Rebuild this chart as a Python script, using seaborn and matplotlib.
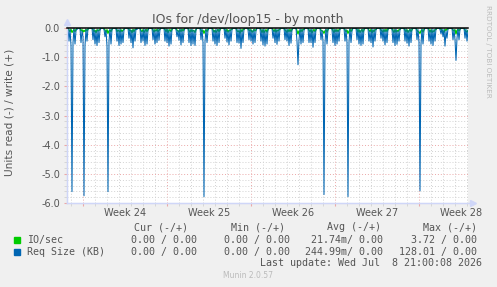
import matplotlib
matplotlib.use("Agg")
import matplotlib.pyplot as plt
import matplotlib.dates as mdates
from matplotlib.patches import Rectangle
import numpy as np
import pandas as pd
import seaborn as sns

# Данные: 2-часовые отсчёты, по 12 на сутки, начиная с 2026-06-06 16:00
start = "2026-06-06 16:00"
end = "2026-07-10 02:00"

# Req Size (KB), чтение (отрисовывается вниз)
req_read = [
    [0, 0, -0.45, -0.05, -0.60, -5.61, -0.50, -0.02, -0.55, -0.08, -0.05, 0],
    [0, 0, -0.50, -0.10, -0.30, -5.75, -0.60, -0.05, -0.45, -0.02, 0, 0],
    [0, 0, -0.40, -0.02, -0.55, -0.10, -0.60, -0.05, -0.50, -0.08, 0, 0],
    [0, -0.05, -0.30, -0.08, -0.62, -5.61, -0.45, -0.02, -0.55, -0.05, 0, 0],
    [0, 0, -0.45, -0.05, -0.60, -0.02, -0.55, -0.10, -0.50, -0.05, 0, 0],
    [0, 0, -0.35, -0.02, -0.50, -0.08, -0.68, -0.05, -0.45, -0.02, -0.05, 0],
    [0, 0, -0.50, -0.10, -0.45, -0.02, -0.60, -0.05, -0.55, -0.08, 0, 0],
    [0, 0, -0.40, -0.05, -0.55, -0.08, -0.50, -0.02, -0.42, -0.05, 0, 0],
    [0, 0, -0.45, -0.02, -0.50, -0.05, -0.62, -0.10, -0.55, -0.02, 0, 0],
    [0, -0.05, -0.30, -0.08, -0.42, -0.02, -0.58, -0.05, -0.50, -0.10, 0, 0],
    [0, 0, -0.50, -0.05, -0.60, -0.02, -0.55, -0.08, -0.60, -0.05, 0, 0],
    [0, 0, -0.40, -0.02, -0.50, -5.78, -0.45, -0.05, -0.50, -0.08, 0, 0],
    [0, 0, -0.45, -0.08, -0.55, -0.02, -0.60, -0.05, -0.50, -0.02, 0, 0],
    [0, 0, -0.35, -0.02, -0.48, -0.10, -0.58, -0.05, -0.45, -0.05, 0, 0],
    [0, 0, -0.50, -0.05, -0.52, -0.02, -0.70, -0.08, -0.50, -0.02, 0, 0],
    [0, -0.05, -0.40, -0.02, -0.45, -0.08, -0.55, -0.05, -0.50, -0.10, 0, 0],
    [0, 0, -0.45, -0.05, -0.58, -0.02, -0.62, -0.10, -0.55, -0.05, 0, 0],
    [0, 0, -0.35, -0.08, -0.50, -0.02, -0.56, -0.05, -0.45, -0.02, 0, 0],
    [0, 0, -0.40, -0.02, -0.45, -0.05, -0.60, -0.08, -0.52, -0.05, 0, 0],
    [0, 0, -0.45, -1.26, -0.40, -0.02, -0.55, -0.05, -0.50, -0.08, 0, 0],
    [0, 0, -0.50, -0.05, -0.50, -0.02, -0.66, -0.10, -0.50, -0.02, 0, 0],
    [0, 0, -0.40, -0.08, -0.45, -5.71, -0.50, -0.02, -0.55, -0.05, 0, 0],
    [0, -0.05, -0.50, -0.02, -0.60, -0.05, -0.55, -0.08, -0.45, -0.02, 0, 0],
    [0, 0, -0.45, -0.05, -0.50, -5.78, -0.48, -0.02, -0.50, -0.10, 0, 0],
    [0, 0, -0.40, -0.02, -0.55, -0.08, -0.60, -0.05, -0.55, -0.02, 0, 0],
    [0, 0, -0.45, -0.10, -0.50, -0.02, -0.65, -0.05, -0.45, -0.05, 0, 0],
    [0, 0, -0.35, -0.02, -0.45, -0.05, -0.58, -0.08, -0.50, -0.02, 0, 0],
    [0, -0.05, -0.50, -0.05, -0.60, -0.02, -0.56, -0.10, -0.45, -0.05, 0, 0],
    [0, 0, -0.45, -0.02, -0.52, -0.08, -0.62, -0.05, -0.50, -0.02, 0, 0],
    [0, 0, -0.40, -0.05, -0.48, -5.58, -0.55, -0.02, -0.55, -0.08, 0, 0],
    [0, 0, -0.45, -0.08, -0.55, -0.02, -0.60, -0.05, -0.45, -0.02, 0, 0],
    [0, -0.05, -0.20, -0.02, -0.30, -0.05, -0.62, -0.10, -0.35, -0.02, 0, 0],
    [0, 0, -0.40, -0.05, -0.40, -1.11, -0.35, -0.02, -0.40, -0.05, 0, 0],
    [0, 0, -0.35, -0.02, -0.45, -0.08, -0.55, -0.05, -0.25, -0.02, 0, 0],
]

# IO/sec, чтение
io_read = [
    [0, 0, -0.08, -0.12, -0.05, -0.15, -0.10, -0.06, -0.12, -0.05, 0, 0],
    [0, 0, -0.10, -0.06, -0.14, -0.08, -0.12, -0.05, -0.10, -0.04, 0, 0],
    [0, 0, -0.06, -0.12, -0.08, -0.16, -0.06, -0.10, -0.08, -0.05, 0, 0],
    [0, 0, -0.08, -0.15, -0.06, -0.18, -0.10, -0.08, -0.12, -0.04, 0, 0],
    [0, 0, -0.12, -0.08, -0.10, -0.14, -0.06, -0.12, -0.08, -0.05, 0, 0],
    [0, 0, -0.06, -0.10, -0.08, -0.16, -0.05, -0.12, -0.06, -0.04, 0, 0],
    [0, 0, -0.10, -0.12, -0.06, -0.15, -0.10, -0.05, -0.12, -0.05, 0, 0],
    [0, 0, -0.08, -0.14, -0.06, -0.10, -0.05, -0.12, -0.08, -0.04, 0, 0],
    [0, 0, -0.06, -0.12, -0.05, -0.16, -0.08, -0.06, -0.12, -0.05, 0, 0],
    [0, 0, -0.08, -0.10, -0.14, -0.06, -0.12, -0.05, -0.10, -0.04, 0, 0],
    [0, 0, -0.10, -0.14, -0.06, -0.12, -0.08, -0.10, -0.15, -0.05, 0, 0],
    [0, 0, -0.08, -0.12, -0.08, -0.18, -0.10, -0.06, -0.12, -0.04, 0, 0],
    [0, 0, -0.06, -0.14, -0.08, -0.15, -0.10, -0.05, -0.12, -0.06, 0, 0],
    [0, 0, -0.08, -0.12, -0.05, -0.14, -0.08, -0.10, -0.06, -0.04, 0, 0],
    [0, 0, -0.10, -0.12, -0.10, -0.18, -0.06, -0.12, -0.05, -0.05, 0, 0],
    [0, 0, -0.08, -0.10, -0.06, -0.14, -0.12, -0.05, -0.10, -0.06, 0, 0],
    [0, 0, -0.08, -0.15, -0.06, -0.16, -0.10, -0.06, -0.14, -0.05, 0, 0],
    [0, 0, -0.06, -0.12, -0.05, -0.14, -0.08, -0.10, -0.06, -0.04, 0, 0],
    [0, 0, -0.08, -0.10, -0.15, -0.06, -0.12, -0.05, -0.12, -0.05, 0, 0],
    [0, 0, -0.10, -0.20, -0.10, -0.14, -0.06, -0.12, -0.05, -0.05, 0, 0],
    [0, 0, -0.08, -0.12, -0.06, -0.16, -0.10, -0.05, -0.12, -0.06, 0, 0],
    [0, 0, -0.08, -0.10, -0.12, -0.18, -0.10, -0.06, -0.14, -0.05, 0, 0],
    [0, 0, -0.10, -0.15, -0.06, -0.12, -0.06, -0.12, -0.06, -0.04, 0, 0],
    [0, 0, -0.08, -0.12, -0.08, -0.18, -0.12, -0.05, -0.12, -0.05, 0, 0],
    [0, 0, -0.06, -0.14, -0.06, -0.15, -0.10, -0.05, -0.14, -0.06, 0, 0],
    [0, 0, -0.08, -0.12, -0.05, -0.16, -0.08, -0.12, -0.06, -0.05, 0, 0],
    [0, 0, -0.08, -0.10, -0.14, -0.06, -0.12, -0.05, -0.12, -0.04, 0, 0],
    [0, 0, -0.10, -0.15, -0.06, -0.14, -0.08, -0.12, -0.06, -0.05, 0, 0],
    [0, 0, -0.08, -0.12, -0.06, -0.15, -0.10, -0.05, -0.12, -0.06, 0, 0],
    [0, 0, -0.08, -0.12, -0.14, -0.18, -0.10, -0.06, -0.14, -0.05, 0, 0],
    [0, 0, -0.06, -0.14, -0.06, -0.15, -0.10, -0.12, -0.06, -0.05, 0, 0],
    [0, 0, -0.05, -0.08, -0.12, -0.15, -0.05, -0.08, -0.04, -0.03, 0, 0],
    [0, 0, -0.08, -0.10, -0.06, -0.20, -0.08, -0.05, -0.10, -0.04, 0, 0],
    [0, 0, -0.08, -0.12, -0.14, -0.08, -0.05, -0.06, -0.04, -0.03, 0, 0],
]

week_labels = ["Week 24", "Week 25", "Week 26", "Week 27", "Week 28"]
week_starts = ["2026-06-08", "2026-06-15", "2026-06-22", "2026-06-29", "2026-07-06"]

legend_names = ["IO/sec", "Req Size (KB)"]
legend_colors = ["#00cc00", "#0066b3"]
cur_vals = ["0.00 / 0.00", "0.00 / 0.00"]
min_vals = ["0.00 / 0.00", "0.00 / 0.00"]
avg_vals = ["21.74m/ 0.00", "244.99m/ 0.00"]
max_vals = ["3.72 / 0.00", "128.01 / 0.00"]

req = np.concatenate(req_read)
io = np.concatenate(io_read)
times = pd.date_range(start, periods=len(req), freq="2h")
df = pd.DataFrame({"time": times, "io_read": io, "req_read": req})

W, H = 497, 287
plt.rcParams["axes.unicode_minus"] = False
plt.rcParams["font.family"] = "DejaVu Sans"
fig = plt.figure(figsize=(W / 100, H / 100), dpi=100, facecolor="#f0f0f0")
ax = fig.add_axes([67 / W, 1 - 203 / H, 401 / W, 175 / H])
ax.set_facecolor("white")

fg = "#555555"
minor_c = "#d2d2d2"
major_c = "#eba8a8"

# сетка
ax.set_ylim(-6, 0)
ax.set_xlim(pd.Timestamp(start), pd.Timestamp(end))
ax.yaxis.set_major_locator(plt.MultipleLocator(1.0))
ax.yaxis.set_minor_locator(plt.MultipleLocator(0.2))
ax.yaxis.set_major_formatter(plt.FormatStrFormatter("%.1f"))
ax.xaxis.set_major_locator(mdates.WeekdayLocator(byweekday=mdates.MO))
ax.xaxis.set_minor_locator(mdates.DayLocator())
ax.xaxis.set_major_formatter(plt.NullFormatter())
ax.grid(which="minor", color=minor_c, linestyle=(0, (1, 2)), lw=0.7)
ax.grid(which="major", color=major_c, linestyle=(0, (1, 2)), lw=0.7)
ax.set_axisbelow(True)

# серии
sns.lineplot(data=df, x="time", y="io_read", color=legend_colors[0], lw=1.0, ax=ax)
sns.lineplot(data=df, x="time", y="req_read", color=legend_colors[1], lw=0.75, ax=ax)
ax.axhline(0, color="black", lw=1.1, clip_on=False, zorder=5)

for s in ["top", "right"]:
    ax.spines[s].set_visible(False)
for s in ["left", "bottom"]:
    ax.spines[s].set_color("#cfd6f8")
ax.plot([0, 0], [0, 1.035], transform=ax.transAxes, color="#cfd6f8", lw=1, clip_on=False)
ax.plot([0, 1.012], [0, 0], transform=ax.transAxes, color="#cfd6f8", lw=1, clip_on=False)
ax.plot([0], [1.035], marker="^", ms=4, color="#cfd6f8", transform=ax.transAxes, clip_on=False)
ax.plot([1.012], [0], marker=">", ms=4, color="#cfd6f8", transform=ax.transAxes, clip_on=False)

ax.tick_params(axis="both", which="major", length=2, color=major_c, labelsize=7,
               labelcolor=fg, pad=3)
ax.tick_params(axis="both", which="minor", length=2, color=minor_c)
ax.set_xlabel("")
ax.set_ylabel("Units read (-) / write (+)", fontsize=7.6, color=fg)
ax.yaxis.set_label_coords(-52 / 401, 0.52)

for lab, ws in zip(week_labels, week_starts):
    c = pd.Timestamp(ws) + pd.Timedelta(hours=84)
    ax.text(c, -0.058, lab, transform=ax.get_xaxis_transform(), ha="center",
            va="center", fontsize=7, color=fg, clip_on=False)

fig.text(248 / W, 1 - 19 / H, "IOs for /dev/loop15 - by month", ha="center",
         va="center", fontsize=9, color=fg)
fig.text(488 / W, 1 - 5 / H, "RRDTOOL / TOBI OETIKER", rotation=270, ha="center",
         va="top", fontsize=5.2, color="#bbbbbb")

# легенда
mono = dict(family="DejaVu Sans Mono", fontsize=7.2, color=fg, va="center")
fig.text(134 / W, 1 - 227 / H, "Cur (-/+)", ha="left", **mono)
fig.text(231 / W, 1 - 227 / H, "Min (-/+)", ha="left", **mono)
fig.text(327 / W, 1 - 227 / H, "Avg (-/+)", ha="left", **mono)
fig.text(423 / W, 1 - 227 / H, "Max (-/+)", ha="left", **mono)
for i, y in enumerate([240, 252]):
    fig.add_artist(Rectangle((14 / W, 1 - (y + 3) / H), 6 / W, 6 / H,
                             color=legend_colors[i], transform=fig.transFigure))
    fig.text(27 / W, 1 - y / H, legend_names[i], ha="left", **mono)
    fig.text(197 / W, 1 - y / H, cur_vals[i], ha="right", **mono)
    fig.text(290 / W, 1 - y / H, min_vals[i], ha="right", **mono)
    fig.text(383 / W, 1 - y / H, avg_vals[i], ha="right", **mono)
    fig.text(477 / W, 1 - y / H, max_vals[i], ha="right", **mono)
fig.text(482 / W, 1 - 263 / H, "Last update: Wed Jul  8 21:00:08 2026", ha="right", **mono)
fig.text(248 / W, 1 - 276 / H, "Munin 2.0.57", ha="center", va="center",
         fontsize=5.5, color="#bbbbbb")

fig.savefig("out.png", dpi=100, facecolor=fig.get_facecolor())
